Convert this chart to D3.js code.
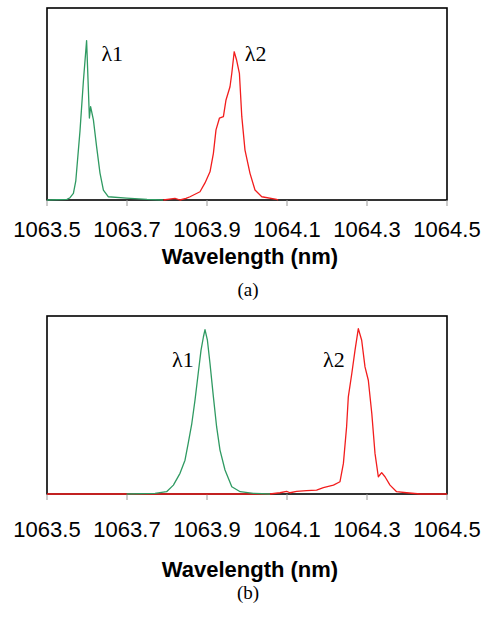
<!DOCTYPE html>
<html>
<head>
<meta charset="utf-8">
<script src="https://cdn.jsdelivr.net/npm/d3@7"></script>
<style>
  body { margin: 0; background: #fff; }
  #chart-container { width: 490px; height: 620px; }
  .tick-label { font-family: "Liberation Sans", Arial, sans-serif; font-size: 22px; fill: #000; }
  .axis-title { font-family: "Liberation Sans", Arial, sans-serif; font-size: 22px; font-weight: bold; fill: #000; }
  .panel-label, .peak-label { font-family: "Liberation Serif", "Times New Roman", serif; fill: #000; }
</style>
</head>
<body>
<div id="chart-container"></div>
<script>
// Two-panel wavelength spectra
(function() {
  const tickValues = [1063.5, 1063.7, 1063.9, 1064.1, 1064.3, 1064.5];
  const tickLabels = ["1063.5", "1063.7", "1063.9", "1064.1", "1064.3", "1064.5"];

  // panel (a) – normalised intensity vs wavelength (nm)
  const greenA = [
    [1063.5, 0], [1063.55, 0.003], [1063.5575, 0.012], [1063.566, 0.035], [1063.572, 0.1],
    [1063.5825, 0.36], [1063.591, 0.62], [1063.599, 0.83], [1063.606, 0.427], [1063.609, 0.486],
    [1063.616, 0.417], [1063.624, 0.278], [1063.6325, 0.14], [1063.641, 0.052], [1063.653, 0.017],
    [1063.699, 0.01], [1063.75, 0.003], [1063.79, 0]
  ];
  const redA = [
    [1063.791, 0], [1063.82, 0.008], [1063.8325, 0], [1063.8475, 0.008], [1063.8575, 0.017],
    [1063.8825, 0.043], [1063.895, 0.089], [1063.9075, 0.147], [1063.916, 0.243], [1063.9225, 0.365],
    [1063.931, 0.426], [1063.941, 0.434], [1063.9475, 0.521], [1063.9575, 0.59], [1063.962, 0.66],
    [1063.968, 0.772], [1063.974, 0.729], [1063.981, 0.66], [1063.987, 0.434], [1063.995, 0.26],
    [1064.0075, 0.139], [1064.02, 0.052], [1064.037, 0.017], [1064.074, 0.003], [1064.078, 0]
  ];

  // panel (b)
  const greenB = [
    [1063.699, 0], [1063.77, 0.004], [1063.799, 0.013], [1063.816, 0.05], [1063.8325, 0.116],
    [1063.845, 0.19], [1063.853, 0.284], [1063.862, 0.396], [1063.87, 0.527], [1063.878, 0.677],
    [1063.885, 0.807], [1063.891, 0.882], [1063.895, 0.923], [1063.901, 0.864], [1063.9075, 0.733],
    [1063.916, 0.546], [1063.924, 0.378], [1063.9325, 0.247], [1063.945, 0.135], [1063.962, 0.041],
    [1063.983, 0.013], [1064.016, 0.004], [1064.0575, 0]
  ];
  const redB = [
    [1063.5, 0], [1064.0575, 0], [1064.0825, 0.007], [1064.099, 0.015], [1064.1075, 0.007],
    [1064.124, 0.015], [1064.149, 0.019], [1064.174, 0.022], [1064.191, 0.036], [1064.216, 0.05],
    [1064.2325, 0.069], [1064.241, 0.172], [1064.249, 0.378], [1064.2533, 0.546], [1064.262, 0.677],
    [1064.27, 0.807], [1064.2783, 0.929], [1064.2867, 0.864], [1064.295, 0.714], [1064.3033, 0.639],
    [1064.312, 0.452], [1064.32, 0.228], [1064.3283, 0.097], [1064.3367, 0.12], [1064.345, 0.097],
    [1064.3575, 0.05], [1064.374, 0.013], [1064.399, 0.007], [1064.4325, 0], [1064.5, 0]
  ];

  const peakLabelsA = [{ text: "λ1", x: 1063.636, y: 0.724 }, { text: "λ2", x: 1063.9945, y: 0.724 }];
  const peakLabelsB = [{ text: "λ1", x: 1063.8125, y: 0.713 }, { text: "λ2", x: 1064.19, y: 0.713 }];

  const colors = { green: "#2f9a62", red: "#f21d1d" };

  const container = document.getElementById('chart-container');
  const width = 490, height = 620;

  const svg = d3.select(container).append("svg")
    .attr("width", width)
    .attr("height", height);

  const margin = { left: 47, right: 43 };
  const innerWidth = width - margin.left - margin.right;

  function drawPanel(cfg) {
    const g = svg.append("g")
      .attr("transform", `translate(${margin.left},${cfg.top})`);

    const x = d3.scaleLinear().domain([1063.5, 1064.5]).range([0, innerWidth]);
    const y = d3.scaleLinear().domain([0, 1]).range([cfg.h, 0]);

    // frame
    g.append("rect")
      .attr("width", innerWidth)
      .attr("height", cfg.h)
      .attr("fill", "none")
      .attr("stroke", "#000")
      .attr("stroke-width", 1.6);

    // ticks below the axis
    g.selectAll(".tick-mark")
      .data(tickValues)
      .enter().append("line")
      .attr("x1", d => x(d)).attr("x2", d => x(d))
      .attr("y1", cfg.h).attr("y2", cfg.h + 6)
      .attr("stroke", "#999").attr("stroke-width", 1);

    const line = d3.line().x(d => x(d[0])).y(d => y(d[1]));

    cfg.series.forEach(s => {
      g.append("path")
        .datum(s.data)
        .attr("d", line)
        .attr("fill", "none")
        .attr("stroke", s.color)
        .attr("stroke-width", 1.3)
        .attr("stroke-linejoin", "round");
    });

    g.selectAll(".peak-label")
      .data(cfg.labels)
      .enter().append("text")
      .attr("class", "peak-label")
      .attr("x", d => x(d.x))
      .attr("y", d => y(d.y))
      .style("font-size", "22px")
      .text(d => d.text);

    g.selectAll(".tick-label")
      .data(tickValues)
      .enter().append("text")
      .attr("class", "tick-label")
      .attr("x", d => x(d))
      .attr("y", cfg.h + cfg.tickDy)
      .attr("text-anchor", "middle")
      .text((d, i) => tickLabels[i]);

    g.append("text")
      .attr("class", "axis-title")
      .attr("x", innerWidth / 2 + 3)
      .attr("y", cfg.h + cfg.titleDy)
      .attr("text-anchor", "middle")
      .text("Wavelength (nm)");

    g.append("text")
      .attr("class", "panel-label")
      .attr("x", innerWidth / 2 + 1)
      .attr("y", cfg.h + cfg.panelDy)
      .attr("text-anchor", "middle")
      .style("font-size", "19px")
      .text(cfg.name);
  }

  drawPanel({
    top: 8, h: 192, name: "(a)",
    series: [{ data: greenA, color: colors.green }, { data: redA, color: colors.red }],
    labels: peakLabelsA, tickDy: 37, titleDy: 64, panelDy: 96
  });

  drawPanel({
    top: 316, h: 178, name: "(b)",
    series: [{ data: redB, color: colors.red }, { data: greenB, color: colors.green }],
    labels: peakLabelsB, tickDy: 43, titleDy: 83, panelDy: 105
  });
})();
</script>
</body>
</html>
